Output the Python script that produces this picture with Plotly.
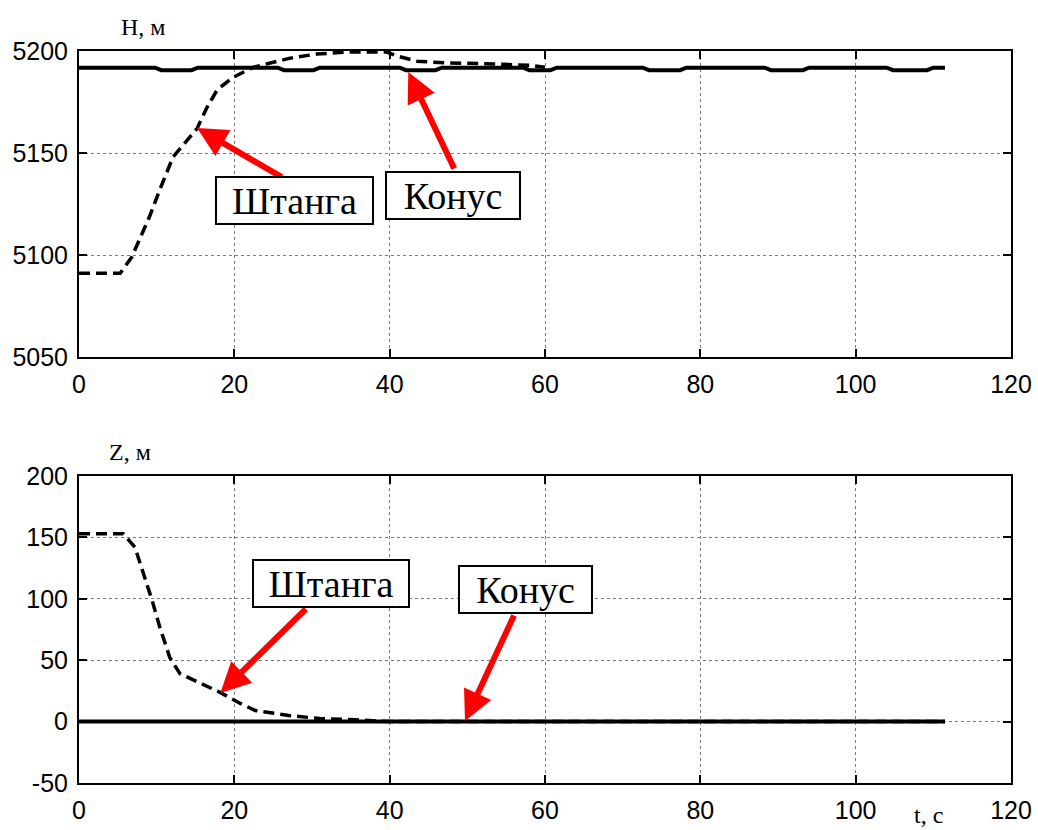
import plotly.graph_objects as go
from plotly.subplots import make_subplots

# ---- data ----
sht_H_t = [0, 5.3, 6.8, 8.2, 9.1, 10.4, 12.1, 15.2, 16.5, 17.8, 19.8, 22.4, 25, 27.2,
           30.6, 34.5, 39.6, 41, 43.5, 47, 52, 58, 60]
sht_H = [5091, 5091, 5099, 5111, 5119, 5132, 5148, 5162, 5172.5, 5181, 5187, 5192,
         5194.5, 5196.5, 5198.5, 5199.5, 5199.5, 5197.5, 5195, 5194.2, 5193.8, 5193, 5192]

kon_H_t = [0, 9.8, 10.6, 14.5, 15.3, 25.6, 26.4, 30.2, 31, 41.3, 42.1, 45.9, 46.7,
           57.2, 58, 60.7, 61.5, 72.6, 73.4, 77.4, 78.2, 88.3, 89.1, 93.2, 94,
           104, 104.8, 109.2, 110, 111.5]
kon_H = [5191.8, 5191.8, 5190.6, 5190.6, 5191.8, 5191.8, 5190.6, 5190.6, 5191.8,
         5191.8, 5190.6, 5190.6, 5191.8, 5191.8, 5190.6, 5190.6, 5191.8,
         5191.8, 5190.6, 5190.6, 5191.8, 5191.8, 5190.6, 5190.6, 5191.8,
         5191.8, 5190.6, 5190.6, 5191.8, 5191.8]

sht_Z_t = [0, 5.7, 7.2, 7.9, 9.4, 10.4, 11.7, 13, 15.6, 18.1, 20.7, 22.7, 27, 31, 35.5, 40, 111.5]
sht_Z = [153, 153, 142, 129, 99, 77, 52, 39, 31, 24, 15, 9, 5, 2.5, 1.5, 0, 0]

kon_Z_t = [0, 111.5]
kon_Z = [0, 0]

x_ticks = [0, 20, 40, 60, 80, 100, 120]
H_ticks = [5050, 5100, 5150, 5200]
Z_ticks = [-50, 0, 50, 100, 150, 200]
Z_ticktext = ["-50", "0", "50", "100", "150", "200"]

# ---- figure ----
W, H = 1038, 830
ml, mr, mt, mb = 79, 27, 51, 47
pw, ph = W - ml - mr, H - mt - mb

fig = make_subplots(rows=2, cols=1, vertical_spacing=0.0)

dash_line = dict(color="black", width=3.5, dash="11px,6px")
solid_line = dict(color="black", width=4)

fig.add_trace(go.Scatter(x=sht_H_t, y=sht_H, mode="lines", line=dash_line, showlegend=False), 1, 1)
fig.add_trace(go.Scatter(x=kon_H_t, y=kon_H, mode="lines", line=solid_line, showlegend=False), 1, 1)
fig.add_trace(go.Scatter(x=sht_Z_t, y=sht_Z, mode="lines", line=dash_line, showlegend=False), 2, 1)
fig.add_trace(go.Scatter(x=kon_Z_t, y=kon_Z, mode="lines", line=solid_line, showlegend=False), 2, 1)

tickfont = dict(family="Liberation Sans, Arial", size=25, color="black")
axis_common = dict(showline=True, linecolor="black", linewidth=2, mirror="allticks",
                   ticks="inside", ticklen=8, tickwidth=1.5, tickcolor="black",
                   showgrid=True, gridcolor="#7a7a7a", gridwidth=1, griddash="dot",
                   zeroline=False, tickfont=tickfont, automargin=False)

fig.update_xaxes(range=[0, 120], tickvals=x_ticks, ticklabelstandoff=4, **axis_common)
fig.update_yaxes(ticklabelstandoff=4, **axis_common)
fig.update_yaxes(range=[5050, 5200], tickvals=H_ticks, row=1, col=1)
fig.update_yaxes(range=[-50, 200], tickvals=Z_ticks, ticktext=Z_ticktext, row=2, col=1)

fig.layout.yaxis.domain = [(783 - 357) / ph, 1.0]
fig.layout.yaxis2.domain = [0.0, (783 - 476) / ph]

serif = "Liberation Serif, Times New Roman"
ann = []

def arrow(xr, yr, x, y, ax, ay):
    ann.append(dict(xref=xr, yref=yr, axref=xr, ayref=yr, x=x, y=y, ax=ax, ay=ay,
                    text="", showarrow=True, arrowhead=2, arrowsize=1, arrowwidth=6,
                    arrowcolor="red"))

def box(xr, yr, x, y, text, w):
    ann.append(dict(xref=xr, yref=yr, x=x, y=y, text=text, showarrow=False,
                    font=dict(family=serif, size=38, color="black"),
                    bgcolor="white", bordercolor="black", borderwidth=2, borderpad=0,
                    width=w, height=45, xanchor="center", yanchor="middle"))

# top panel arrows / labels
arrow("x", "y", 15.2, 5162.3, 26.3, 5137.7)
arrow("x", "y", 42.4, 5189.7, 48.4, 5141.7)
box("x", "y", 27.7, 5126.5, "Штанга", 155)
box("x", "y", 48.2, 5129.4, "Конус", 132)

# bottom panel arrows / labels
arrow("x2", "y2", 18.2, 23.3, 29.4, 92.9)
arrow("x2", "y2", 49.7, 0.5, 56.1, 87.6)
box("x2", "y2", 32.5, 112.5, "Штанга", 154)
box("x2", "y2", 57.5, 107.2, "Конус", 131)

def ptext(px, py, text):
    ann.append(dict(xref="paper", yref="paper", x=(px - ml) / pw, y=(H - mb - py) / ph,
                    text=text, showarrow=False, xanchor="center", yanchor="middle",
                    font=dict(family=serif, size=24, color="black")))

ptext(143, 27, "H, м")
ptext(130, 452, "Z, м")
ptext(928, 815, "t, c")

fig.update_layout(width=W, height=H, margin=dict(l=ml, r=mr, t=mt, b=mb),
                  paper_bgcolor="white", plot_bgcolor="white", annotations=ann)

fig.write_html("out.html",
               post_script="document.body.style.margin='0';document.body.style.overflow='hidden';")
